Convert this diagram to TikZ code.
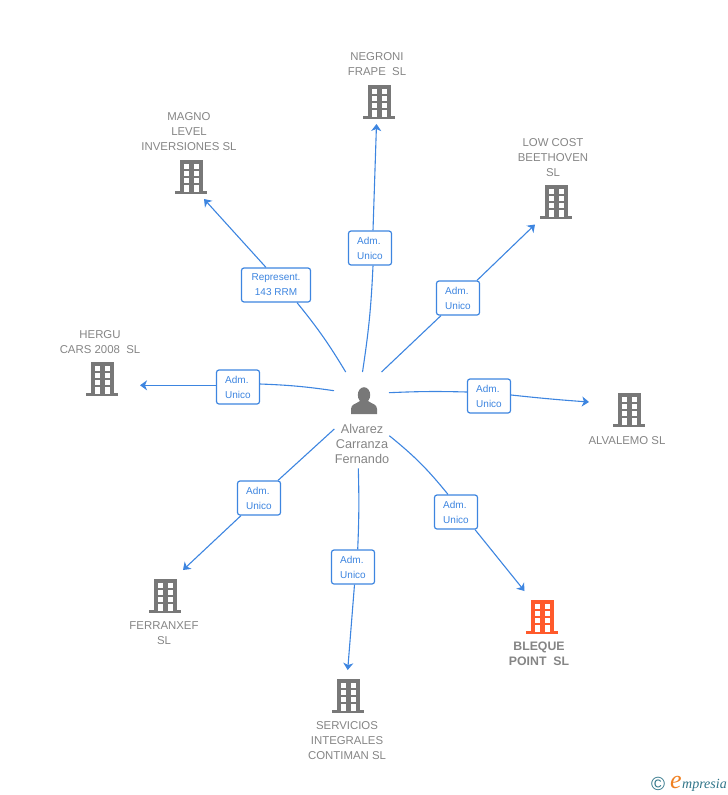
\documentclass[tikz,border=0pt]{standalone}
\usepackage{fontspec}
\setmainfont{Liberation Sans}
\newfontfamily\logofont{Liberation Serif}
\usetikzlibrary{arrows.meta}

\definecolor{wireblue}{HTML}{3D85E0}
\definecolor{textgray}{HTML}{858585}
\definecolor{icongray}{HTML}{787878}
\definecolor{iconred}{HTML}{FF5A2B}
\definecolor{logoteal}{HTML}{2F7488}
\definecolor{logoorange}{HTML}{F08020}

\begin{document}
\begin{tikzpicture}[
        x=1pt, y=-1pt,
        wire/.style={wireblue, line width=1.1pt},
        tipwire/.style={wire, -{Stealth[length=7pt, width=10pt, inset=2pt]}},
        rolebox/.style={draw=wireblue, line width=1.2pt, rounded corners=2.5pt, fill=white,
            text=wireblue, align=left, font=\fontsize{10}{15}\selectfont,
            minimum width=43pt, minimum height=34pt, inner sep=0pt},
        firmname/.style={text=textgray, align=center, font=\fontsize{11.4}{15}\selectfont, inner sep=0pt},
        building/.pic={
            \fill[#1] (-11.5,-17) rectangle (11.5,15);
            \fill[#1] (-16,14) rectangle (16,17);
            \foreach \wy in {-13,-6,1} {
                \fill[white] (-7.5,\wy) rectangle (-2.5,\wy+4.5);
                \fill[white] (2.5,\wy) rectangle (7.5,\wy+4.5);
            }
            \fill[white] (-7.5,8) rectangle (-2.5,15);
            \fill[white] (2.5,8) rectangle (7.5,15);
        }
    ]
        \useasboundingbox (0,0) rectangle (728,795);

        % Person in the middle
        \node[inner sep=0pt, minimum size=30pt] (person) at (364,401) {};
        \fill[icongray] (person.center) ++(0,-6) ellipse (6.2 and 7.8);
        \fill[icongray] (351,414) -- (351,409) .. controls (351,404) and (356,404) .. (360,401)
            -- (368,401) .. controls (372,404) and (377,404) .. (377,409) -- (377,414) -- cycle;
        \node[firmname, font=\fontsize{12.7}{15}\selectfont] (personname) at (362,444)
            {Alvarez\\Carranza\\Fernando};

        % Buildings
        \foreach \firm/\x/\y/\tint in {
            negroni/379/102/icongray, lowcost/556/202/icongray, magno/191/177/icongray,
            hergu/102/379/icongray, alvalemo/629/410/icongray, ferranxef/165/596/icongray,
            bleque/542/617/iconred, servicios/348/696/icongray} {
            \pic (\firm) at (\x,\y) {building=\tint};
        }

        % Company names
        \node[firmname] (negroniname) at (377,64) {NEGRONI\\FRAPE\ \ SL};
        \node[firmname] (lowcostname) at (553,158) {LOW COST\\BEETHOVEN\\SL};
        \node[firmname] (magnoname) at (189,132) {MAGNO\\LEVEL\\INVERSIONES SL};
        \node[firmname] (herguname) at (100,342) {HERGU\\CARS 2008\ \ SL};
        \node[firmname] (alvalemoname) at (627,441) {ALVALEMO SL};
        \node[firmname] (ferranxefname) at (164,633) {FERRANXEF\\SL};
        \node[firmname, font=\bfseries\fontsize{12.3}{15}\selectfont] (blequename) at (539,654) {BLEQUE\\POINT\ \ SL};
        \node[firmname] (serviciosname) at (347,741) {SERVICIOS\\INTEGRALES\\CONTIMAN SL};

        % Role boxes
        \node[rolebox] (r1) at (370,248) {Adm.\\Unico};
        \node[rolebox] (r2) at (458,298) {Adm.\\Unico};
        \node[rolebox, align=center, minimum width=69pt] (r3) at (276,285) {Represent.\\143 RRM};
        \node[rolebox] (r4) at (238,387) {Adm.\\Unico};
        \node[rolebox] (r5) at (489,396) {Adm.\\Unico};
        \node[rolebox] (r6) at (259,498) {Adm.\\Unico};
        \node[rolebox] (r7) at (456,512) {Adm.\\Unico};
        \node[rolebox] (r8) at (353,567) {Adm.\\Unico};

        % Free ends near the person
        \coordinate (s1) at (362.5,372);
        \coordinate (s2) at (381.5,372);
        \coordinate (s3) at (345.7,372);
        \coordinate (s4) at (334,390.7);
        \coordinate (s5) at (389,392.7);
        \coordinate (s6) at (334.3,429);
        \coordinate (s7) at (389.3,435.7);
        \coordinate (s8) at (358.3,468.3);

        % Free ends near the buildings
        \coordinate (t1) at (376.5,124);
        \coordinate (t2) at (535,224.5);
        \coordinate (t3) at (204,199);
        \coordinate (t4) at (140,385.3);
        \coordinate (t5) at (589,402);
        \coordinate (t6) at (183,570);
        \coordinate (t7) at (524.5,591);
        \coordinate (t8) at (347.7,670);

        % Connectors
        \draw[wire] (s1) to[bend right=3] ([xshift=3pt]r1.south);
        \draw[tipwire] ([xshift=3pt]r1.north) -- (t1);
        \draw[wire] (s2) -- ([xshift=-17pt]r2.south);
        \draw[tipwire] ([xshift=19pt]r2.north) -- (t2);
        \draw[wire] (s3) to[bend right=4] ([xshift=21pt]r3.south);
        \draw[tipwire] ([xshift=-10pt]r3.north) -- (t3);
        \draw[wire] (s4) to[bend right=3] ([yshift=3pt]r4.east);
        \draw[tipwire] ([yshift=1.7pt]r4.west) -- (t4);
        \draw[wire] (s5) to[bend left=2] ([yshift=4pt]r5.west);
        \draw[tipwire] ([yshift=1pt]r5.east) to[bend right=1] (t5);
        \draw[wire] (s6) -- ([xshift=19pt]r6.north);
        \draw[tipwire] ([xshift=-18pt]r6.south) -- (t6);
        \draw[wire] (s7) to[bend left=6] ([xshift=-8pt]r7.north);
        \draw[tipwire] ([xshift=19pt]r7.south) -- (t7);
        \draw[wire] (s8) to[bend left=2] ([xshift=4.7pt]r8.north);
        \draw[tipwire] ([xshift=1.5pt]r8.south) -- (t8);

        % Logo
        \node[text=logoteal, inner sep=0pt, font=\fontsize{19}{19}\selectfont] (logomark) at (658,784) {\textcopyright};
        \node[text=logoorange, inner sep=0pt, font=\logofont\itshape\fontsize{26}{26}\selectfont] (logoe) at (676,782) {e};
        \node[text=logoteal, inner sep=0pt, anchor=west, font=\logofont\itshape\fontsize{14}{14}\selectfont] (logotext) at (682,785) {mpresia};

    \end{tikzpicture}
\end{document}
